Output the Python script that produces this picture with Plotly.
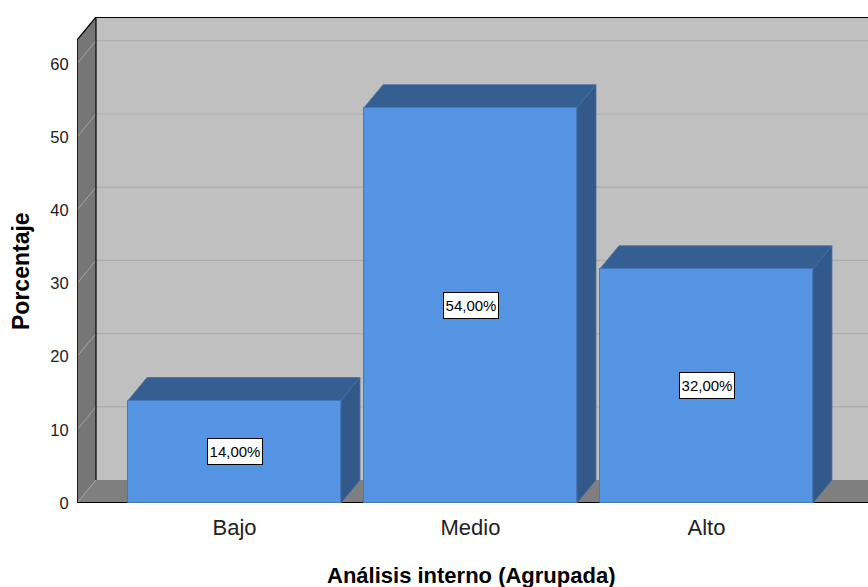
import plotly.graph_objects as go

# Data
categories = ["Bajo", "Medio", "Alto"]
percentages = [14.0, 54.0, 32.0]
y_ticks = [0, 10, 20, 30, 40, 50, 60]

# Styling / geometry of the pseudo-3D frame
FRONT = "#5594E3"
TOP = "#355E92"
SIDE = "#33598B"
WALL = "#C0C0C0"
SIDE_WALL = "#767676"
FLOOR = "#7F7F7F"
GRID_BACK = "#ADADAD"
GRID_SIDE = "#A4A4A4"
FONT = "Liberation Sans, Arial"

W, H = 868, 587
ML, MR, MT, MB = 77, 0, 17, 84
px_per_cat = 236.0
px_per_unit = 7.32
x_left = -(234.5 - ML) / px_per_cat
x_right = x_left + (W - ML - MR) / px_per_cat
y_top = (H - MT - MB) / px_per_unit
bar_w = 213 / px_per_cat
dx = 19 / px_per_cat          # depth offset along x (data units)
dy = 23 / px_per_unit         # depth offset along y (data units)

xs = list(range(len(categories)))

fig = go.Figure()
fig.add_trace(go.Bar(
    x=xs, y=percentages, width=bar_w,
    marker=dict(color=FRONT, line=dict(color="#4677B8", width=1)),
    hoverinfo="skip", showlegend=False,
))

shapes = []


def poly(pts, fill, line_color=None, line_width=0):
    path = "M " + " L ".join(f"{px},{py}" for px, py in pts) + " Z"
    return dict(type="path", path=path, xref="x", yref="y", layer="below",
                fillcolor=fill,
                line=dict(color=line_color or fill, width=line_width))


def seg(x0, y0, x1, y1, color, width=1):
    return dict(type="line", x0=x0, y0=y0, x1=x1, y1=y1, xref="x", yref="y",
                layer="below", line=dict(color=color, width=width))


far = x_right + 1
# back wall
shapes.append(poly([(x_left + dx, dy), (x_left + dx, y_top + 1),
                    (far, y_top + 1), (far, dy)], WALL))
# left side wall
shapes.append(poly([(x_left, 0), (x_left, y_top - dy), (x_left + dx, y_top),
                    (x_left + dx, dy)], SIDE_WALL))
# floor
shapes.append(poly([(x_left, 0), (far, 0), (far + dx, dy), (x_left + dx, dy)], FLOOR))

# gridlines on back and side walls
for v in y_ticks[1:]:
    shapes.append(seg(x_left + dx, v + dy, far, v + dy, GRID_BACK, 1.2))
    shapes.append(seg(x_left, v, x_left + dx, v + dy, GRID_SIDE, 1))
shapes.append(seg(x_left, 0, x_left + dx, dy, GRID_SIDE, 1))

# frame edges
shapes.append(seg(x_left + dx, y_top - 0.05, far, y_top - 0.05, "#000000", 1.5))
shapes.append(seg(x_left + dx, dy, x_left + dx, y_top, "#000000", 1.2))
shapes.append(seg(x_left, 0, x_left, y_top - dy, "#000000", 1.5))
shapes.append(seg(x_left, y_top - dy, x_left + dx, y_top, "#000000", 1.2))
shapes.append(seg(x_left, 0.05, far, 0.05, "#000000", 1.5))

# bar top and side faces
for x, v in zip(xs, percentages):
    l, r = x - bar_w / 2, x + bar_w / 2
    shapes.append(poly([(l, v), (l + dx, v + dy), (r + dx, v + dy), (r, v)],
                       TOP, "#4A6FA0", 0.8))
    shapes.append(poly([(r, 0), (r, v), (r + dx, v + dy), (r + dx, dy)],
                       SIDE, "#4A6FA0", 0.8))

annotations = []
for x, v in zip(xs, percentages):
    annotations.append(dict(
        x=x, y=v / 2, xref="x", yref="y", showarrow=False,
        text=f"{v:.2f}%".replace(".", ","),
        font=dict(family=FONT, size=15, color="#000000"),
        bgcolor="#FFFFFF", bordercolor="#000000", borderwidth=1, borderpad=1,
        width=52, height=23,
    ))

plot_h = H - MT - MB
plot_w = W - ML - MR
# axis titles
annotations.append(dict(
    text="<b>Análisis interno (Agrupada)</b>", x=1, xref="x",
    y=-(575 - (H - MB)) / plot_h, yref="paper", yanchor="middle",
    showarrow=False,
    font=dict(family=FONT, size=22, color="#000000"),
))
annotations.append(dict(
    text="<b>Porcentaje</b>", textangle=-90,
    x=(21 - ML) / plot_w, xref="paper", xanchor="center",
    y=(H - MB - 271) / px_per_unit, yref="y", yanchor="middle",
    showarrow=False,
    font=dict(family=FONT, size=23, color="#000000"),
))

fig.update_layout(
    width=W, height=H,
    margin=dict(l=ML, r=MR, t=MT, b=MB, pad=0),
    paper_bgcolor="#FFFFFF", plot_bgcolor="#FFFFFF",
    shapes=shapes, annotations=annotations,
    bargap=0,
    xaxis=dict(
        range=[x_left, x_right], tickvals=xs, ticktext=categories,
        showgrid=False, zeroline=False, showline=False,
        ticks="outside", ticklen=5, tickcolor="rgba(0,0,0,0)",
        tickfont=dict(family=FONT, size=22, color="#222222"),
        fixedrange=True,
    ),
    yaxis=dict(
        range=[0, y_top], tickvals=y_ticks,
        showgrid=False, zeroline=False, showline=False,
        ticks="outside", ticklen=4, tickcolor="rgba(0,0,0,0)",
        tickfont=dict(family=FONT, size=16.5, color="#222222"),
        fixedrange=True,
    ),
)

fig.write_html("out.html")
